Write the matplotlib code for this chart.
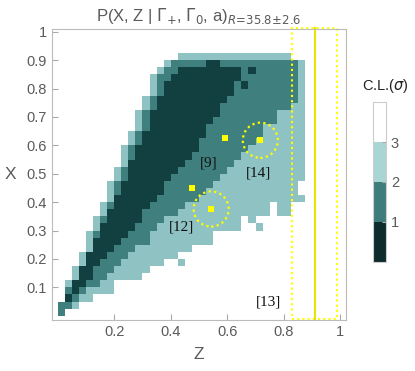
import numpy as np
import matplotlib.pyplot as plt
from matplotlib.colors import ListedColormap, BoundaryNorm
from matplotlib.patches import Rectangle, Circle

cell = 0.025
n_rows, n_cols = 37, 35

# one entry per row j (X from j*cell to (j+1)*cell); values are Z column indices
light_start = [0, 0, 1, 1, 1, 2, 2, 3, 3, 4, 4, 4, 5, 5, 6, 6, 7, 7, 7, 8, 8, 9, 9, 9,
               10, 10, 11, 11, 11, 12, 12, 13, 13, 13, 14, 15, 17]
light_end = [1, 3, 5, 8, 8, 12, 13, 15, 17, 19, 22, 22, 26, 26, 33, 33, 35, 34, 34, 35, 35, 35, 35, 35,
             35, 35, 35, 35, 35, 35, 35, 35, 35, 35, 35, 35, 33]
mid_start = [0, 0, 1, 1, 2, 3, 3, 4, 4, 5, 5, 5, 6, 6, 7, 7, 8, 8, 8, 9, 9, 10, 10, 10,
             11, 11, 12, 12, 12, 13, 13, 14, 14, 14, 15, 16, 0]
mid_end = [1, 2, 3, 4, 6, 7, 8, 9, 10, 11, 13, 13, 14, 15, 17, 18, 20, 21, 22, 23, 24, 25, 26, 27,
           28, 29, 29, 31, 31, 33, 34, 34, 34, 34, 34, 34, 0]
dark_start = [0, 0, 1, 2, 2, 3, 3, 4, 4, 5, 5, 6, 6, 7, 7, 8, 8, 9, 9, 10, 10, 10, 11, 11,
              12, 12, 13, 13, 13, 14, 14, 15, 15, 16, 17, 21, 0]
dark_end = [0, 0, 2, 3, 4, 5, 5, 6, 7, 8, 9, 10, 11, 12, 12, 13, 14, 15, 15, 16, 17, 18, 19, 20,
            20, 21, 21, 22, 23, 23, 24, 25, 25, 26, 26, 23, 0]
# isolated cells (row, col, level); level 0 = hole
extra_cells = [(34, 27, 1), (32, 26, 1), (13, 27, 3), (12, 28, 3), (7, 17, 3),
               (14, 30, 0), (15, 30, 0)]

points_z = [0.591, 0.717, 0.476, 0.543]
points_x = [0.625, 0.618, 0.450, 0.376]
circles = [(0.717, 0.618), (0.543, 0.376)]
ref_labels = ['[9]', '[14]', '[12]', '[13]']
ref_z = [0.534, 0.710, 0.437, 0.747]
ref_x = [0.537, 0.502, 0.312, 0.050]

grid = np.zeros((n_rows, n_cols))
for j in range(n_rows):
    grid[j, light_start[j]:light_end[j]] = 3
    grid[j, mid_start[j]:mid_end[j]] = 2
    grid[j, dark_start[j]:dark_end[j]] = 1
for j, k, v in extra_cells:
    grid[j, k] = v
grid = np.ma.masked_equal(grid, 0)

plot_cmap = ListedColormap(['#123f40', '#3f7f7e', '#8fc2c2'])
plot_norm = BoundaryNorm([0.5, 1.5, 2.5, 3.5], plot_cmap.N)

gray = '#5a5a5a'
plt.rcParams['font.family'] = ['Liberation Sans', 'DejaVu Sans']

fig = plt.figure(figsize=(4.15, 3.71), dpi=100)
ax = fig.add_axes([0.1253, 0.1375, 0.7084, 0.7844])

z_edges = np.arange(n_cols + 1) * cell
x_edges = np.arange(n_rows + 1) * cell
ax.pcolormesh(z_edges, x_edges, grid, cmap=plot_cmap, norm=plot_norm)

ax.plot(points_z, points_x, 's', color='#ffff00', markersize=5, markeredgewidth=0)
for cz, cx in circles:
    ax.add_patch(Circle((cz, cx), 0.062, fill=False, edgecolor='#ffff00', linestyle=(0, (1, 1.5)), lw=1.6))
for lab, lz, lx in zip(ref_labels, ref_z, ref_x):
    ax.text(lz, lx, lab, family='Liberation Serif', fontsize=11, ha='center', va='center', color='#111111')

ax.add_patch(Rectangle((0.828, -0.01), 0.159, 1.022, fill=False, edgecolor='#ffff00',
                       linestyle=(0, (1, 1.5)), lw=1.5, clip_on=False))
ax.plot([0.91, 0.91], [-0.01, 1.012], color='#e6e600', lw=1.5, clip_on=False)

ax.set_xlim(-0.02, 1.02)
ax.set_ylim(-0.015, 1.01)
ax.set_xticks([0.2, 0.4, 0.6, 0.8, 1.0])
ax.set_xticklabels(['0.2', '0.4', '0.6', '0.8', '1'])
ax.set_yticks([0.1, 0.2, 0.3, 0.4, 0.5, 0.6, 0.7, 0.8, 0.9, 1.0])
ax.set_yticklabels(['0.1', '0.2', '0.3', '0.4', '0.5', '0.6', '0.7', '0.8', '0.9', '1'])
ax.tick_params(direction='in', length=4, width=0.8, color='#aaaaaa', labelcolor=gray, labelsize=10.5)
for s in ax.spines.values():
    s.set_color('#bbbbbb')
ax.set_xlabel('Z', color=gray, fontsize=12.5, labelpad=6)
ax.set_ylabel('X', color=gray, fontsize=12.5, rotation=0, labelpad=12, va='center')
ax.set_title(r'P(X, Z | $\Gamma_{+}$, $\Gamma_{0}$, a)$_{\mathit{R\!=\!35.8\!\pm\!2.6}}$',
             color=gray, fontsize=12, pad=6)

# colorbar
cb_cmap = ListedColormap(['#0f2c2d', '#3e7d7c', '#a9d5d5', '#ffffff'])
cb_norm = BoundaryNorm([0.25, 1, 2, 3, 4], cb_cmap.N)
cax = fig.add_axes([0.899, 0.294, 0.031, 0.431])
sm = plt.cm.ScalarMappable(cmap=cb_cmap, norm=cb_norm)
cb = fig.colorbar(sm, cax=cax, ticks=[1, 2, 3])
cb.minorticks_off()
cb.outline.set_edgecolor('#cccccc')
cb.ax.tick_params(direction='in', length=3, color='#aaaaaa', labelcolor=gray, labelsize=10.5)
fig.text(0.928, 0.768, r'C.L.($\sigma$)', color='#222222', fontsize=10.5, ha='center', va='center')

fig.savefig('out.png', dpi=100)
